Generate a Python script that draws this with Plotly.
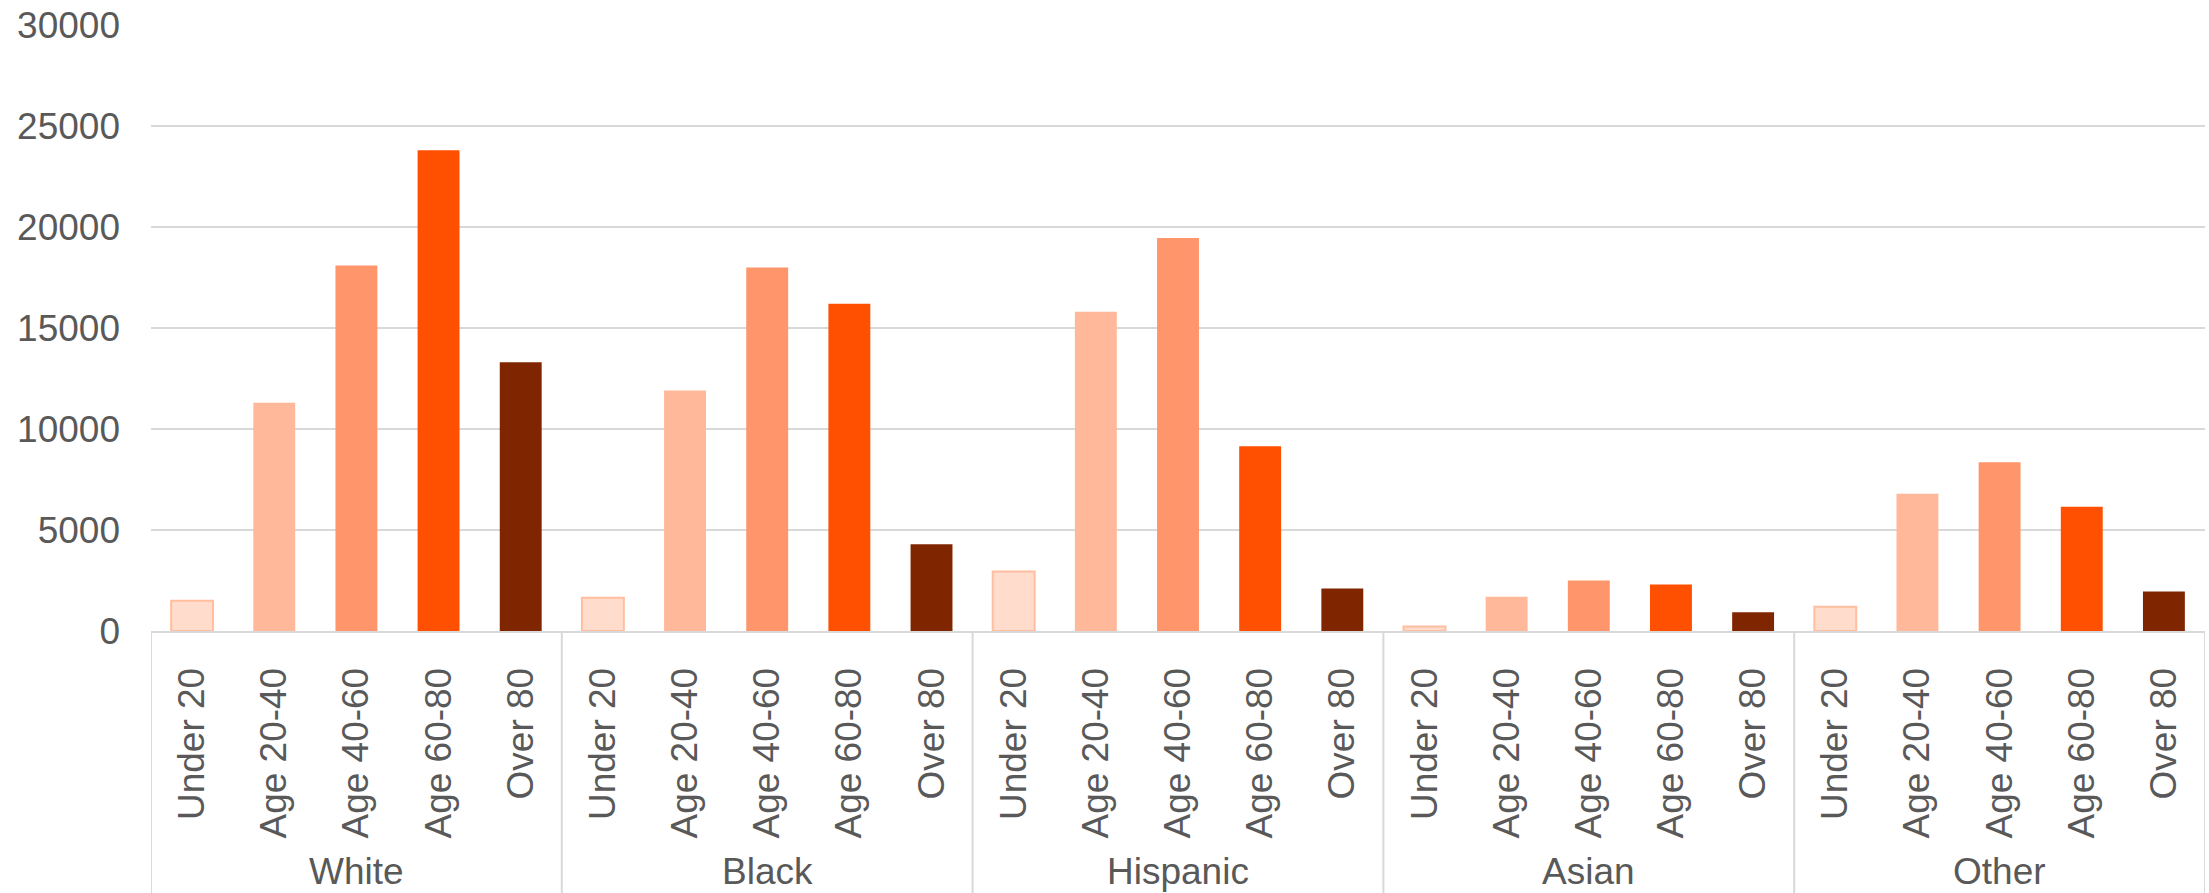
import plotly.graph_objects as go

# Race groups and age bands shown on the two-level category axis
races = ["White", "Black", "Hispanic", "Asian", "Other"]
age_bands = ["Under 20", "Age 20-40", "Age 40-60", "Age 60-80", "Over 80"]

# Counts per age band, listed in race order
under_20 = [1500, 1650, 2950, 220, 1200]
age_20_40 = [11300, 11900, 15800, 1700, 6800]
age_40_60 = [18100, 18000, 19450, 2500, 8350]
age_60_80 = [23800, 16200, 9150, 2300, 6150]
over_80 = [13300, 4300, 2100, 930, 1950]

series = [under_20, age_20_40, age_40_60, age_60_80, over_80]
fills = ["#FFDCCC", "#FFB899", "#FF956A", "#FF4F00", "#7F2600"]
outlines = ["#FFBE9F", None, None, None, None]

FONT = "Liberation Sans, Arial, sans-serif"
TEXT = "#595959"
GRID = "#D9D9D9"

n_age = len(age_bands)
n_race = len(races)

fig = go.Figure()
for a, (vals, fill, edge) in enumerate(zip(series, fills, outlines)):
    xs = [r * n_age + a for r in range(n_race)]
    fig.add_trace(go.Bar(
        x=xs, y=vals, width=0.51, name=age_bands[a],
        marker=dict(color=fill,
                    line=dict(color=edge or fill, width=2 if edge else 0)),
        showlegend=False,
    ))

tickvals = list(range(n_age * n_race))
ticktext = age_bands * n_race

W, H = 2209, 893
ml, mr, mt, mb = 151, 4, 25, 262
plot_h = H - mt - mb

shapes = []
for r in range(n_race + 1):
    xb = r * n_age - 0.5
    shapes.append(dict(type="line", xref="x", yref="paper",
                       x0=xb, x1=xb, y0=0, y1=-mb / plot_h,
                       line=dict(color=GRID, width=2)))

annotations = []
for r, race in enumerate(races):
    annotations.append(dict(
        x=r * n_age + (n_age - 1) / 2, y=(plot_h - 871.5 + mt) / plot_h - 1 + 0,
        xref="x", yref="paper", text=race, showarrow=False,
        xanchor="center", yanchor="middle",
        font=dict(family=FONT, size=37, color=TEXT),
    ))
# place group labels at a fixed pixel depth below the axis
for ann in annotations:
    ann["y"] = -(871.5 - (mt + plot_h)) / plot_h

fig.update_layout(
    width=W, height=H,
    margin=dict(l=ml, r=mr, t=mt, b=mb, pad=0),
    paper_bgcolor="white", plot_bgcolor="white",
    barmode="overlay",
    shapes=shapes, annotations=annotations,
    font=dict(family=FONT, size=37, color=TEXT),
)
fig.update_xaxes(
    range=[-0.5, n_age * n_race - 0.5],
    tickmode="array", tickvals=tickvals, ticktext=ticktext,
    tickangle=-90, ticks="", showgrid=False, zeroline=False,
    showline=True, linecolor=GRID, linewidth=2,
    tickfont=dict(family=FONT, size=37, color=TEXT),
    ticklabelstandoff=20,
)
fig.update_yaxes(
    range=[0, 30000], dtick=5000, tick0=0, tickformat="d",
    showgrid=True, gridcolor=GRID, gridwidth=2,
    zeroline=False, showline=False, ticks="",
    tickfont=dict(family=FONT, size=37, color=TEXT),
    ticklabelstandoff=30,
)

fig.write_html("out.html")
